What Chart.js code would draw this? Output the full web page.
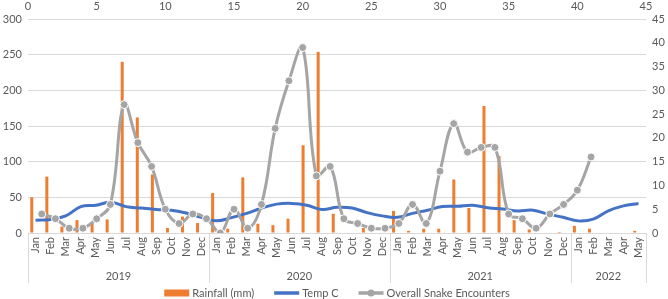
<!DOCTYPE html>
<html>
<head>
<meta charset="utf-8">
<script src="https://cdn.jsdelivr.net/npm/chart.js@4/dist/chart.umd.min.js"></script>
<style>
  html, body { margin: 0; padding: 0; background: #fff; }
</style>
</head>
<body>
<canvas id="rainChart" width="668" height="299"></canvas>
<script>
const months = ['Jan','Feb','Mar','Apr','May','Jun','Jul','Aug','Sep','Oct','Nov','Dec',
                'Jan','Feb','Mar','Apr','May','Jun','Jul','Aug','Sep','Oct','Nov','Dec',
                'Jan','Feb','Mar','Apr','May','Jun','Jul','Aug','Sep','Oct','Nov','Dec',
                'Jan','Feb','Mar','Apr','May'];
const years = ['2019', '2020', '2021', '2022'];
const monthsPerYear = [12, 12, 12, 5];

const rainfall = [50, 79, 9, 18, 15, 19, 240, 162, 82, 7, 23, 14,
                  56, 6, 78, 13, 11, 20, 123, 254, 27, 0, 7, 0,
                  31, 3, 6, 6, 75, 35, 178, 108, 18, 5, 0, 1.5,
                  10, 6, 0, 0, 3];
const tempC = [18, 19, 24, 37, 39, 43, 37, 35, 33, 32, 28, 22,
               17, 21.5, 27.5, 35, 40.5, 41.5, 39, 33, 36, 35, 28.5, 24,
               22, 27.5, 32, 37, 37.5, 39, 35.5, 33.5, 31, 32, 26.5, 22,
               17, 19.5, 31, 38, 41.5];
// snake counts sit on the secondary (top/right) axes at x = 1..41
const snakeEncounters = [4, 3, 1, 1, 3, 6, 27, 19, 14, 5, 2, 4,
                         3, 0, 5, 1, 6, 22, 32, 39, 12, 14, 3, 2,
                         1, 1, 2, 6, 2, 13, 23, 17, 18, 18, 4, 3,
                         1, 4, 6, 9, 16];

const textColor = '#595959';
const fontFamily = 'Lato, "Liberation Sans", sans-serif';
Chart.defaults.font.family = fontFamily;
Chart.defaults.color = textColor;

// year row under the month labels (multi-level category axis)
const yearRowPlugin = {
    id: 'yearRow',
    afterDraw(chart) {
        const { ctx, scales: { x } } = chart;
        const top = x.top;
        ctx.save();
        ctx.strokeStyle = '#d9d9d9';
        ctx.lineWidth = 1;
        ctx.fillStyle = textColor;
        ctx.font = '11px ' + fontFamily;
        ctx.textAlign = 'center';
        ctx.textBaseline = 'middle';
        let start = 0;
        const drawSep = (px) => {
            ctx.beginPath();
            ctx.moveTo(Math.round(px) + 0.5, top);
            ctx.lineTo(Math.round(px) + 0.5, top + 50);
            ctx.stroke();
        };
        drawSep(x.getPixelForValue(-0.5));
        years.forEach((yr, i) => {
            const end = start + monthsPerYear[i];
            const left = x.getPixelForValue(start - 0.5);
            const right = x.getPixelForValue(end - 0.5);
            drawSep(right);
            ctx.fillText(yr, (left + right) / 2, top + 43);
            start = end;
        });
        ctx.restore();
    }
};

// legend drawn like the spreadsheet one
const legendPlugin = {
    id: 'sheetLegend',
    afterDraw(chart) {
        const { ctx } = chart;
        const ds = chart.data.datasets;
        const items = [ds[0], ds[1], ds[2]];
        const symW = 25, gap = 3, itemGap = 20;
        ctx.save();
        ctx.font = '11px ' + fontFamily;
        ctx.textBaseline = 'middle';
        const widths = items.map(d => symW + gap + ctx.measureText(d.label).width);
        const total = widths.reduce((a, b) => a + b, 0) + itemGap * (items.length - 1);
        let xPos = (chart.width - total) / 2 + 3;
        const yPos = 293;
        items.forEach((d, i) => {
            if (d.type === 'bar') {
                ctx.fillStyle = d.backgroundColor;
                ctx.fillRect(xPos, yPos - 3.5, symW, 7);
            } else {
                ctx.strokeStyle = d.borderColor;
                ctx.lineWidth = 3.5;
                ctx.beginPath();
                ctx.moveTo(xPos, yPos);
                ctx.lineTo(xPos + symW, yPos);
                ctx.stroke();
                if (d.pointRadius > 0) {
                    ctx.fillStyle = d.pointBackgroundColor;
                    ctx.beginPath();
                    ctx.arc(xPos + symW / 2, yPos, 3.5, 0, Math.PI * 2);
                    ctx.fill();
                }
            }
            ctx.fillStyle = textColor;
            ctx.fillText(d.label, xPos + symW + gap, yPos);
            xPos += widths[i] + itemGap;
        });
        ctx.restore();
    }
};

new Chart(document.getElementById('rainChart'), {
    data: {
        labels: months,
        datasets: [{
            type: 'bar',
            label: 'Rainfall (mm)',
            data: rainfall,
            backgroundColor: '#ED7D31',
            borderWidth: 0,
            barPercentage: 0.4,
            categoryPercentage: 1,
            xAxisID: 'x',
            yAxisID: 'y',
            order: 3,
        }, {
            type: 'line',
            label: 'Temp C',
            data: tempC,
            borderColor: '#4472C4',
            backgroundColor: '#4472C4',
            borderWidth: 3,
            pointRadius: 0,
            tension: 0.4,
            xAxisID: 'x',
            yAxisID: 'y',
            order: 2,
        }, {
            type: 'line',
            label: 'Overall Snake Encounters',
            data: snakeEncounters.map((v, i) => ({ x: i + 1, y: v })),
            borderColor: '#A5A5A5',
            backgroundColor: '#A5A5A5',
            pointBackgroundColor: '#A5A5A5',
            pointBorderColor: '#ffffff',
            pointBorderWidth: 1,
            pointRadius: 4,
            borderWidth: 3,
            tension: 0.4,
            xAxisID: 'x2',
            yAxisID: 'y2',
            order: 1,
        }]
    },
    options: {
        responsive: false,
        animation: false,
        layout: { padding: { bottom: 14, top: 0, left: 0, right: 0 } },
        plugins: {
            legend: { display: false },
            tooltip: { enabled: false },
        },
        scales: {
            x: {
                type: 'category',
                position: 'bottom',
                offset: true,
                grid: { display: false, drawTicks: false },
                border: { display: false },
                ticks: {
                    autoSkip: false,
                    minRotation: 90,
                    maxRotation: 90,
                    padding: 4,
                    font: { size: 11 },
                },
                afterFit: (scale) => { scale.height = 52; },
            },
            x2: {
                type: 'linear',
                position: 'top',
                min: 0,
                max: 45,
                grid: { display: false, drawTicks: false },
                border: { display: false },
                ticks: { stepSize: 5, padding: 6, font: { size: 11 } },
                afterFit: (scale) => { scale.height = 19; },
            },
            y: {
                position: 'left',
                min: 0,
                max: 300,
                grid: { color: '#d9d9d9', drawTicks: false },
                border: { display: false },
                ticks: { stepSize: 50, padding: 6, font: { size: 11 } },
                afterFit: (scale) => { scale.width = 28; },
            },
            y2: {
                position: 'right',
                min: 0,
                max: 45,
                grid: { display: false, drawTicks: false },
                border: { display: false },
                ticks: { stepSize: 5, padding: 6, font: { size: 11 } },
                afterFit: (scale) => { scale.width = 22; },
            }
        }
    },
    plugins: [yearRowPlugin, legendPlugin]
});
</script>
</body>
</html>
